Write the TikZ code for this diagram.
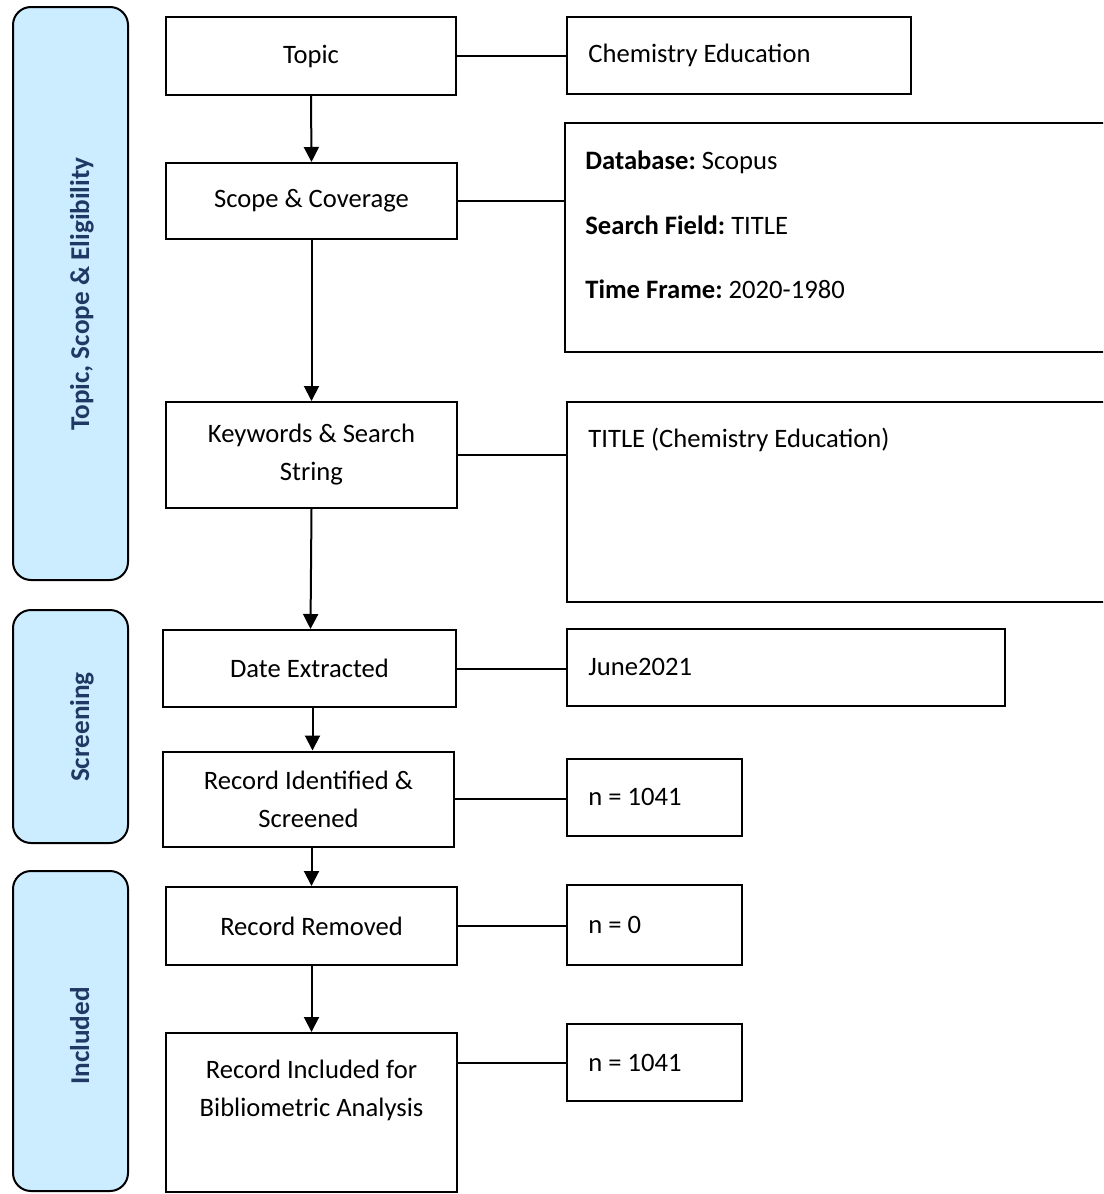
\documentclass[tikz,border=0pt]{standalone}
\usepackage{fontspec}
\setmainfont{Carlito}
\usetikzlibrary{arrows.meta}
\definecolor{sidefill}{RGB}{204,236,255}
\definecolor{sidetext}{RGB}{31,56,100}
\frenchspacing
\begin{document}
\begin{tikzpicture}[x=0.5pt,y=-0.5pt,
  txt/.style={font=\fontsize{13.3pt}{19pt}\selectfont, inner sep=0pt, align=center},
  boxst/.style={draw, line width=1pt, rectangle, inner sep=0pt, txt},
  ltxt/.style={font=\fontsize{13.3pt}{19pt}\selectfont, inner sep=0pt, anchor=west, align=left},
  sidebox/.style={draw, line width=1pt, fill=sidefill, rounded corners=9pt, minimum width=57.5pt, inner sep=0pt},
  sidelab/.style={font=\fontsize{13.6pt}{16pt}\selectfont\bfseries, text=sidetext, rotate=90, anchor=base, inner sep=0pt},
  arr/.style={draw, line width=1pt, -{Triangle[width=7.5pt,length=7.5pt]}},
  link/.style={draw, line width=1pt}]
\useasboundingbox (0,0) rectangle (1103,1194);
\clip (0,0) rectangle (1103,1194);

% side panels
\node[sidebox, minimum height=286.5pt] (s1) at (70.5,293.5) {};
\node[sidebox, minimum height=116.5pt] (s2) at (70.5,726.5) {};
\node[sidebox, minimum height=160pt] (s3) at (70.5,1031) {};
\node[sidelab] (s1t) at (89,294) {Topic, Scope \& Eligibility};
\node[sidelab] (s2t) at (89,727) {Screening};
\node[sidelab] (s3t) at (89,1036) {Included};

% main column
\node[boxst, minimum width=145pt, minimum height=39pt] (topic) at (311,56) {Topic};
\node[boxst, minimum width=145.5pt, minimum height=38pt] (scope) at (311.5,201) {Scope \& Coverage};
\node[boxst, minimum width=145.5pt, minimum height=53pt] (kw) at (311.5,455) {Keywords \& Search\\String};
\node[boxst, minimum width=146.5pt, minimum height=38.5pt] (date) at (309.5,668.5) {Date Extracted};
\node[boxst, minimum width=145.5pt, minimum height=47.5pt] (recid) at (308.5,799) {Record Identified \&\\Screened};
\node[boxst, minimum width=145.5pt, minimum height=39pt] (removed) at (311.5,926) {Record Removed};
\node[boxst, minimum width=145.5pt, minimum height=79.5pt] (incl) at (311.5,1112.5) {};
\node[txt] (inclt) at (311.5,1090) {Record Included for\\Bibliometric Analysis};

% right column
\node[boxst, minimum width=172pt, minimum height=38.5pt] (chem) at (739,55.5) {};
\node[ltxt] (chemt) at (588,55) {Chemistry Education};
\node[boxst, minimum width=275pt, minimum height=114.5pt] (db) at (840,237.5) {};
\node[ltxt] (dbt1) at (585,162) {\textbf{Database:} Scopus};
\node[ltxt] (dbt2) at (585,225) {\textbf{Search Field:} TITLE};
\node[ltxt] (dbt3) at (585,289) {\textbf{Time Frame:} 2020-1980};
\node[boxst, minimum width=274pt, minimum height=100pt] (title) at (841,502) {};
\node[ltxt] (titlet) at (588,440) {TITLE (Chemistry Education)};
\node[boxst, minimum width=219pt, minimum height=38.5pt] (june) at (786,667.5) {};
\node[ltxt] (junet) at (588,667) {June2021};
\node[boxst, minimum width=87.5pt, minimum height=38.5pt] (na) at (654.5,797.5) {};
\node[ltxt] (nat) at (588,797) {n = 1041};
\node[boxst, minimum width=87.5pt, minimum height=40pt] (nb) at (654.5,925) {};
\node[ltxt] (nbt) at (588,925) {n = 0};
\node[boxst, minimum width=87.5pt, minimum height=38.5pt] (nc) at (654.5,1062.5) {};
\node[ltxt] (nct) at (588,1063) {n = 1041};

% vertical arrows
\draw[arr] (topic.south) -- (scope.north);
\draw[arr] (scope.south) -- (kw.north);
\draw[arr] (kw.south) -- ([xshift=0.5pt]date.north);
\draw[arr] ([xshift=1.5pt]date.south) -- ([xshift=2pt]recid.north);
\draw[arr] (recid.south -| removed.north) -- (removed.north);
\draw[arr] (removed.south) -- (incl.north);

% horizontal links
\draw[link] (topic.east) -- (topic.east -| chem.west);
\draw[link] (scope.east) -- (scope.east -| db.west);
\draw[link] (kw.east) -- (kw.east -| title.west);
\draw[link] (date.east) -- (date.east -| june.west);
\draw[link] (recid.east) -- (recid.east -| na.west);
\draw[link] (removed.east) -- (removed.east -| nb.west);
\draw[link] (nc.west -| incl.east) -- (nc.west);
\end{tikzpicture}
\end{document}
